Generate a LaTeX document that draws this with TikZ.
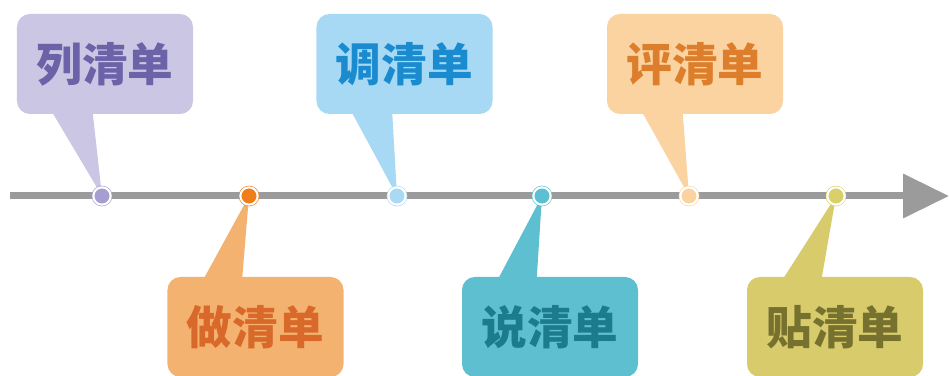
\documentclass[tikz,border=0pt]{standalone}
\usepackage{fontspec}
\newfontfamily\cjk{Noto Sans CJK SC}
\usetikzlibrary{arrows.meta,positioning,calc}
\definecolor{axisgray}{HTML}{9B9B9B}
\definecolor{boxlie}{HTML}{CBC6E4}
\definecolor{inklie}{HTML}{6B62A8}
\definecolor{dotlie}{HTML}{A69DD0}
\definecolor{boxzuo}{HTML}{F3B26F}
\definecolor{inkzuo}{HTML}{D8692A}
\definecolor{dotzuo}{HTML}{EE7D1A}
\definecolor{boxtiao}{HTML}{A7D9F4}
\definecolor{inktiao}{HTML}{1A8BCF}
\definecolor{dottiao}{HTML}{A9D9F3}
\definecolor{boxshuo}{HTML}{5DBFD0}
\definecolor{inkshuo}{HTML}{1D7C8C}
\definecolor{dotshuo}{HTML}{5BC0D1}
\definecolor{boxping}{HTML}{FAD3A0}
\definecolor{inkping}{HTML}{DC7E2C}
\definecolor{dotping}{HTML}{FAD3A0}
\definecolor{boxtie}{HTML}{D8CB6C}
\definecolor{inktie}{HTML}{77712F}
\definecolor{dottie}{HTML}{D9D06A}
\tikzset{
  bubble/.style={rounded corners=11pt, minimum width=5.28cm, minimum height=3.0cm,
    inner sep=0pt, font=\cjk\bfseries\fontsize{39}{41}\selectfont},
  dot/.style={circle, minimum size=0.52cm, inner sep=0pt, line width=0.5pt,
    double=white, double distance=1.8pt},
  axis/.style={-{Triangle[length=1.38cm, width=1.29cm]}, line width=0.21cm, color=axisgray},
}
\begin{document}
\begin{tikzpicture}[x=0.03cm,y=-0.03cm]
  \useasboundingbox (0,0) rectangle (949,376);
  % the time axis
  \coordinate (start) at (10,196);
  \coordinate (end) at (949,196);
  \draw[axis] (start) -- (end);
  % bubbles above the axis
  \foreach \n/\dx/\bx/\t/\col in {1/102/105/列/lie, 3/397/404.5/调/tiao, 5/689/695/评/ping} {
    \coordinate (p\n) at (\dx,196);
    \node[bubble, fill=box\col, text=ink\col] (b\n) at (\bx,64) {\t 清单};
    \fill[box\col] ($(b\n.south west)+(36,-1)$) -- (p\n) -- ($(b\n.south west)+(76,-1)$) -- cycle;
    \node[dot, draw=dot\col, fill=dot\col] (d\n) at (p\n) {};
  }
  % bubbles below the axis
  \foreach \n/\dx/\bx/\t/\col in {2/249/255.5/做/zuo, 4/542/550/说/shuo, 6/836/835/贴/tie} {
    \coordinate (p\n) at (\dx,196);
    \node[bubble, fill=box\col, text=ink\col] (b\n) at (\bx,327) {\t 清单};
    \fill[box\col] ($(b\n.north west)+(37,1)$) -- (p\n) -- ($(b\n.north west)+(75,1)$) -- cycle;
    \node[dot, draw=dot\col, fill=dot\col] (d\n) at (p\n) {};
  }
\end{tikzpicture}
\end{document}
